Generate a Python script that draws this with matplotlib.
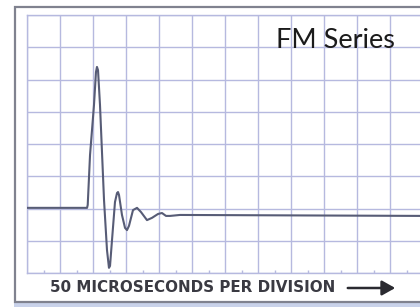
import matplotlib
matplotlib.use("Agg")
import matplotlib.pyplot as plt
from matplotlib.patches import Rectangle, FancyArrowPatch

# trace: time in microseconds, amplitude in divisions
t_us = [0, 91, 92, 95.5, 101.5, 104.5, 106, 107.6, 110.6, 116.7, 121.2, 124.2,
        125.8, 128.8, 133.3, 136.4, 137.9, 139.4, 143.9, 148.5, 151.5, 154.5,
        160.6, 166.7, 172.7, 181.8, 189.4, 198.5, 204.5, 210.6, 216.7, 231.8, 600]
amp = [-1.98, -1.98, -1.89, -0.34, 1.21, 2.23, 2.39, 2.29, 1.21, -1.74, -3.29, -3.84,
       -3.78, -2.98, -1.80, -1.52, -1.49, -1.58, -2.20, -2.60, -2.67, -2.54,
       -2.05, -1.98, -2.11, -2.36, -2.29, -2.17, -2.14, -2.23, -2.23, -2.20, -2.23]

title = "FM Series"
xlabel = "50 MICROSECONDS PER DIVISION"
us_per_div = 50

W, H = 420, 307
fig = plt.figure(figsize=(W / 100, H / 100), dpi=100)
fig.patch.set_facecolor("white")

# shadow under the frame, then the frame itself
fig.add_artist(Rectangle((14 / W, 0), 1, (H - 301) / H, transform=fig.transFigure,
                         facecolor="#c9d2ea", edgecolor="none", zorder=0))
fig.add_artist(Rectangle((15 / W, (H - 302) / H), 1, (302 - 7) / H, transform=fig.transFigure,
                         facecolor="white", edgecolor="#80828f", linewidth=1.6, zorder=1))

ax = fig.add_axes([27 / W, (H - 273) / H, (W - 27) / W, (273 - 15) / H])
ax.set_facecolor("white")
ax.set_zorder(2)
ax.set_xlim(0, (W - 27) / 33 * us_per_div)
ax.set_ylim(-4, 4)
ax.set_xticks(range(0, 600, us_per_div))
ax.set_xticks(range(25, 600, us_per_div), minor=True)
ax.set_yticks(range(-4, 5))
gridc = "#b6b9df"
ax.grid(True, color=gridc, linewidth=1.0)
ax.tick_params(which="major", length=0, labelbottom=False, labelleft=False)
ax.tick_params(which="minor", direction="in", length=2.5, color=gridc, width=1,
               labelbottom=False)
for s in ax.spines.values():
    s.set_color(gridc)
    s.set_linewidth(1.0)
ax.spines["right"].set_visible(False)

ax.plot(t_us, amp, color="#575c76", linewidth=1.5, solid_joinstyle="round", zorder=3)

fig.text(276 / W, (H - 48) / H, title, fontsize=19.5, family="Lato", color="#1b1b1b",
         ha="left", va="baseline", zorder=5)
fig.text(50 / W, (H - 288) / H, xlabel, fontsize=10.9, fontweight="bold",
         family="DejaVu Sans", color="#3a3a42", ha="left", va="center", zorder=5)
fig.add_artist(FancyArrowPatch((345 / W, (H - 288) / H), (398 / W, (H - 288) / H),
                               transform=fig.transFigure, arrowstyle="-|>,head_length=8,head_width=4.5",
                               color="#2a2a30", linewidth=1.8, mutation_scale=1, zorder=5))

plt.savefig("out.png", dpi=100)
